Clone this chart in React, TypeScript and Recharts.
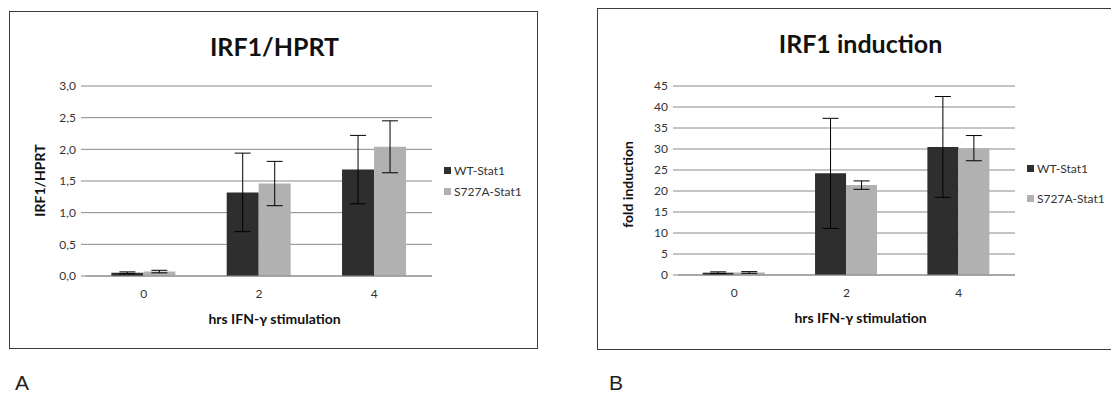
import { BarChart, Bar, XAxis, YAxis, CartesianGrid, ErrorBar } from 'recharts';

const hours = ['0', '2', '4'];

// panel A: IRF1/HPRT
const irfWT = [0.05, 1.32, 1.68];
const irfWTErr = [0.015, 0.62, 0.54];
const irfS727A = [0.07, 1.46, 2.04];
const irfS727AErr = [0.02, 0.35, 0.41];
const irfTicks = [0, 0.5, 1, 1.5, 2, 2.5, 3];

// panel B: fold induction
const foldWT = [0.55, 24.2, 30.5];
const foldWTErr = [0.2, 13.1, 12.0];
const foldS727A = [0.6, 21.4, 30.2];
const foldS727AErr = [0.2, 1.0, 3.0];
const foldTicks = [0, 5, 10, 15, 20, 25, 30, 35, 40, 45];

const seriesNames = ['WT-Stat1', 'S727A-Stat1'];
const WT_COLOR = '#2e2e2e';
const S_COLOR = '#b1b1b1';
const FONT = 'Lato, "Open Sans", sans-serif';

type PanelProps = {
  left: number;
  top: number;
  width: number;
  height: number;
  title: string;
  yLabel: string;
  wt: number[];
  wtErr: number[];
  s: number[];
  sErr: number[];
  ticks: number[];
  fmt: (v: number) => string;
  margin: { top: number; right: number; bottom: number; left: number };
  legendTop: number;
  legendStep: number;
  yLabelShift: number;
};

function Panel(p: PanelProps) {
  const data = hours.map((h, i) => ({
    hrs: h,
    wt: p.wt[i],
    wtErr: p.wtErr[i],
    s: p.s[i],
    sErr: p.sErr[i],
  }));
  const yAxisW = 50;
  const xAxisH = 30;
  const plotTop = p.margin.top;
  const plotBottom = p.height - p.margin.bottom - xAxisH;
  const plotRight = p.width - p.margin.right;

  return (
    <div
      style={{
        position: 'absolute',
        left: p.left,
        top: p.top,
        width: p.width,
        height: p.height,
        border: '1px solid #3a3a3a',
        boxSizing: 'border-box',
        background: '#fff',
        fontFamily: FONT,
      }}
    >
      <div
        style={{
          position: 'absolute',
          left: 0,
          width: p.width,
          top: 19,
          textAlign: 'center',
          fontSize: 25,
          fontWeight: 'bold',
          color: '#111',
        }}
      >
        {p.title}
      </div>
      <div
        style={{
          position: 'absolute',
          left: 29 - 100,
          width: 200,
          top: (plotTop + plotBottom) / 2 - 10 + p.yLabelShift,
          textAlign: 'center',
          fontSize: 14,
          fontWeight: 'bold',
          color: '#111',
          transform: 'rotate(-90deg)',
        }}
      >
        {p.yLabel}
      </div>
      <div
        style={{
          position: 'absolute',
          left: 0,
          width: p.width,
          top: plotBottom + 33,
          textAlign: 'center',
          fontSize: 14,
          fontWeight: 'bold',
          color: '#111',
        }}
      >
        hrs IFN-γ stimulation
      </div>
      {seriesNames.map((name, i) => (
        <div
          key={name}
          style={{
            position: 'absolute',
            left: plotRight + 11,
            top: p.legendTop + i * p.legendStep,
            fontSize: 12,
            color: '#333',
            display: 'flex',
            alignItems: 'center',
            whiteSpace: 'nowrap',
          }}
        >
          <span
            style={{
              display: 'inline-block',
              width: 7,
              height: 7,
              background: i === 0 ? WT_COLOR : S_COLOR,
              marginRight: 3,
            }}
          />
          {name}
        </div>
      ))}
      <div style={{ position: 'absolute', left: -1, top: -1 }}>
        <BarChart
          width={p.width}
          height={p.height}
          data={data}
          margin={p.margin}
          barCategoryGap="22%"
          barGap={0}
        >
          <CartesianGrid vertical={false} stroke="#8a8a8a" strokeWidth={1} />
          <XAxis
            dataKey="hrs"
            axisLine={{ stroke: '#8a8a8a' }}
            tickLine={false}
            tickSize={0}
            tickMargin={13}
            height={xAxisH}
            tick={{ fontSize: 12, fill: '#333', fontFamily: FONT }}
          />
          <YAxis
            width={yAxisW}
            domain={[p.ticks[0], p.ticks[p.ticks.length - 1]]}
            ticks={p.ticks}
            interval={0}
            axisLine={false}
            tickLine={{ stroke: '#8a8a8a' }}
            tickSize={5}
            tickMargin={5}
            tickFormatter={p.fmt}
            tick={{ fontSize: 12, fill: '#333', fontFamily: FONT }}
          />
          <Bar dataKey="wt" fill={WT_COLOR} isAnimationActive={false}>
            <ErrorBar dataKey="wtErr" width={8} stroke="#000" strokeWidth={1} />
          </Bar>
          <Bar dataKey="s" fill={S_COLOR} isAnimationActive={false}>
            <ErrorBar dataKey="sErr" width={8} stroke="#000" strokeWidth={1} />
          </Bar>
        </BarChart>
      </div>
    </div>
  );
}

export default function App() {
  return (
    <div
      style={{
        position: 'absolute',
        left: 0,
        top: 0,
        width: 1111,
        height: 394,
        overflow: 'hidden',
        background: '#fff',
      }}
    >
      <Panel
        left={9}
        top={11}
        width={529}
        height={338}
        title="IRF1/HPRT"
        yLabel="IRF1/HPRT"
        wt={irfWT}
        wtErr={irfWTErr}
        s={irfS727A}
        sErr={irfS727AErr}
        ticks={irfTicks}
        fmt={(v) => v.toFixed(1).replace('.', ',')}
        margin={{ top: 75, right: 106, bottom: 43, left: 27 }}
        legendTop={151}
        legendStep={21}
        yLabelShift={0}
      />
      <Panel
        left={597}
        top={8}
        width={525}
        height={342}
        title="IRF1 induction"
        yLabel="fold induction"
        wt={foldWT}
        wtErr={foldWTErr}
        s={foldS727A}
        sErr={foldS727AErr}
        ticks={foldTicks}
        fmt={(v) => String(v)}
        margin={{ top: 78, right: 107, bottom: 45, left: 31 }}
        legendTop={152}
        legendStep={30}
        yLabelShift={4}
      />
      <div
        style={{
          position: 'absolute',
          left: 15,
          top: 372,
          fontSize: 21,
          lineHeight: '21px',
          fontFamily: '"Liberation Sans", Arial, sans-serif',
          color: '#222',
        }}
      >
        A
      </div>
      <div
        style={{
          position: 'absolute',
          left: 609,
          top: 372,
          fontSize: 21,
          lineHeight: '21px',
          fontFamily: '"Liberation Sans", Arial, sans-serif',
          color: '#222',
        }}
      >
        B
      </div>
    </div>
  );
}
